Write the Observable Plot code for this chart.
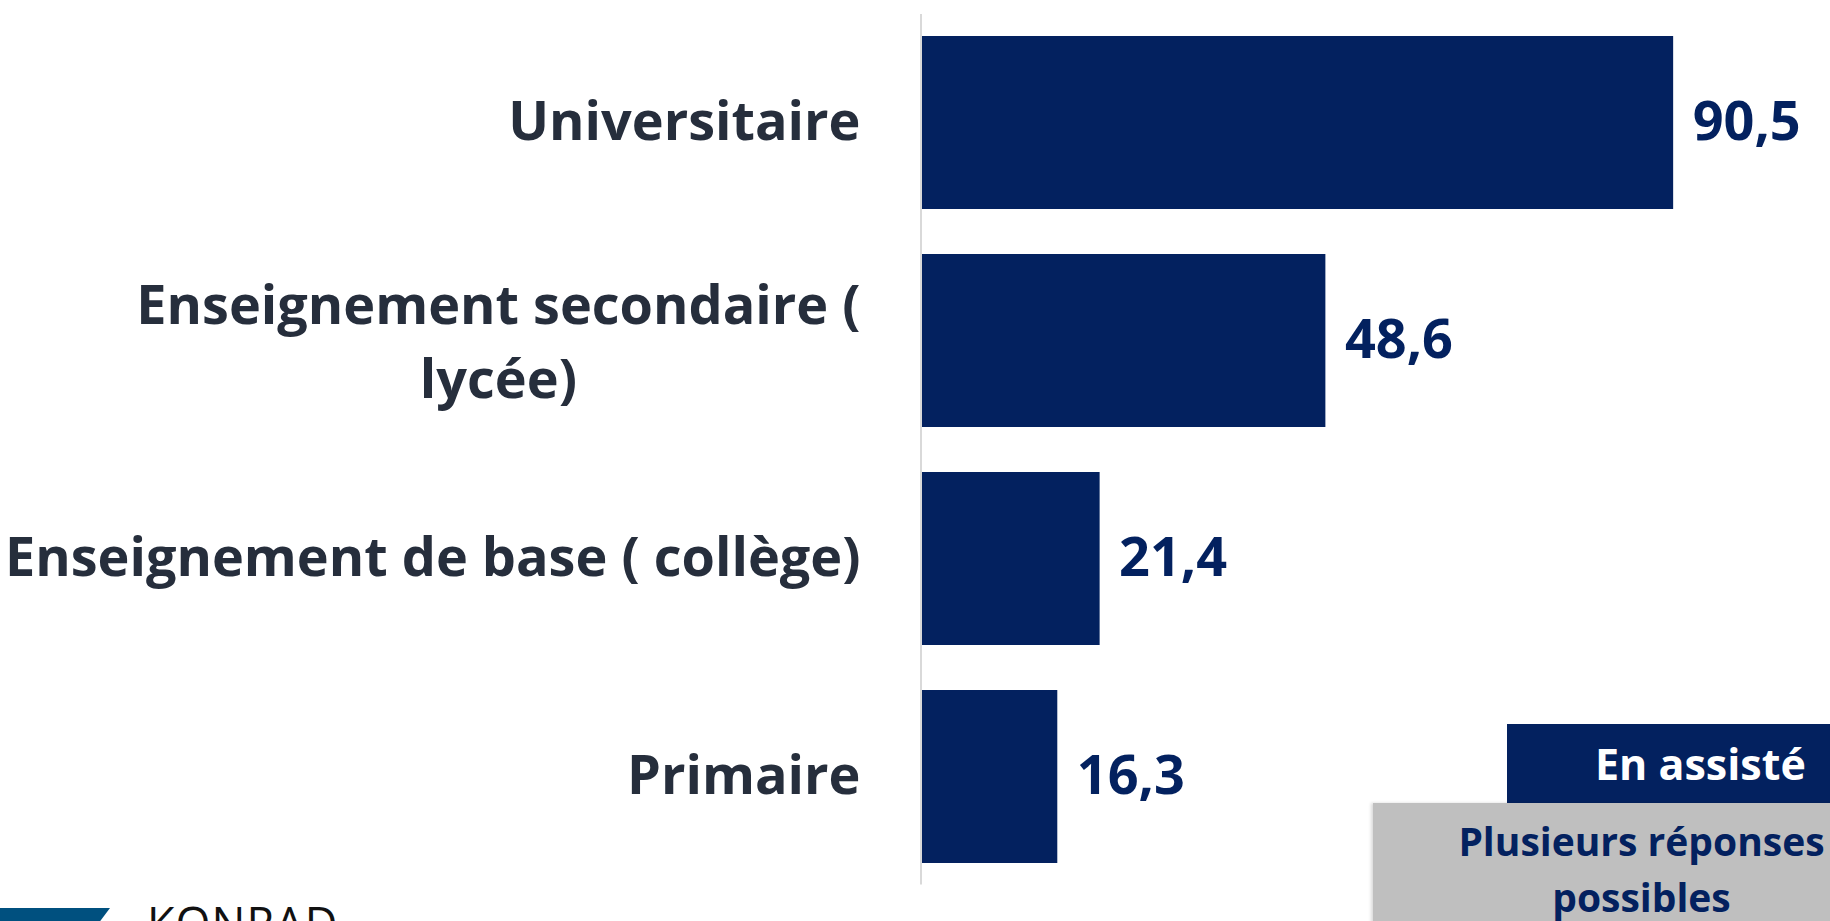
<!DOCTYPE html>
<html>
<head>
<meta charset="utf-8">
<script src="https://cdn.jsdelivr.net/npm/d3@7"></script>
<script src="https://cdn.jsdelivr.net/npm/@observablehq/plot@0.6"></script>
<style>
  html, body { margin: 0; padding: 0; background: #fff; overflow: hidden; width: 1830px; height: 921px; }
  #wrap { position: relative; width: 1830px; height: 921px; }
  #chart svg { display: block; }
  .box-navy { position: absolute; left: 1507px; top: 724px; width: 340px; height: 79px; background: #03215f;
    color: #fff; font-family: "Open Sans", sans-serif; font-weight: 700; font-size: 43px; line-height: 79px;
    box-sizing: border-box; padding-left: 88px; white-space: nowrap; }
  .box-gray { position: absolute; left: 1373px; top: 803px; width: 537px; height: 140px; background: #bfbfbf;
    color: #03215f; font-family: "Open Sans", sans-serif; font-weight: 700; font-size: 39px; line-height: 56px;
    text-align: center; box-sizing: border-box; padding-top: 10px; box-shadow: -2px 0 3px rgba(0,0,0,0.15); }
  .logo-shape { position: absolute; left: 0; top: 908px; width: 112px; height: 40px; background: #00507f;
    clip-path: polygon(0 0, 110px 0, 80px 40px, 0 40px); }
  .logo-text { position: absolute; left: 147px; top: 900px; font-family: "Open Sans", sans-serif; font-weight: 400;
    font-size: 45px; line-height: 45px; color: #111; letter-spacing: 1px; }
</style>
</head>
<body>
<div id="wrap">
  <div id="chart"></div>
  <div class="box-navy">En assisté</div>
  <div class="box-gray">Plusieurs réponses<br>possibles</div>
  <div class="logo-shape"></div>
  <div class="logo-text">KONRAD</div>
</div>
<script>
const categories = ["Universitaire", "Enseignement secondaire ( lycée)", "Enseignement de base ( collège)", "Primaire"];
const categoryLabels = ["Universitaire", "Enseignement secondaire (\nlycée)", "Enseignement de base ( collège)", "Primaire"];
const values = [90.5, 48.6, 21.4, 16.3];

const data = categories.map((c, i) => ({cat: c, label: categoryLabels[i], value: values[i]}));
const single = data.filter(d => !d.label.includes("\n"));
const wrapped = data.filter(d => d.label.includes("\n"));

const navy = "#03215f";
const labelColor = "#262e3c";
const font = "'Open Sans', sans-serif";
const labelSize = 54;
const labelGap = 62;

// measure the widest line of the wrapped label so that its lines are centred on each other
const ctx = document.createElement("canvas").getContext("2d");
ctx.font = `bold ${labelSize}px 'Open Sans'`;
const wrappedWidth = wrapped.length ? Math.max(...wrapped[0].label.split("\n").map(s => ctx.measureText(s).width)) : 0;

const fmt = v => v.toFixed(1).replace(".", ",");

const chart = Plot.plot({
  width: 1830,
  height: 921,
  marginLeft: 922,
  marginRight: 78,
  marginTop: 14,
  marginBottom: 36.5,
  style: {fontFamily: font, background: "transparent"},
  x: {domain: [0, 100], axis: null},
  y: {domain: categories, axis: null, paddingInner: 0.208, paddingOuter: 0.1},
  marks: [
    Plot.barX(data, {x: "value", y: "cat", fill: navy}),
    Plot.ruleX([0], {stroke: "#d9d9d9", strokeWidth: 2, dx: -1.5}),
    Plot.text(data, {x: "value", y: "cat", text: d => fmt(d.value), dx: 19, textAnchor: "start",
      fill: navy, fontSize: 54, fontWeight: "bold"}),
    Plot.text(single, {x: 0, y: "cat", text: "label", dx: -labelGap, textAnchor: "end",
      fill: labelColor, fontSize: labelSize, fontWeight: "bold"}),
    Plot.text(wrapped, {x: 0, y: "cat", text: "label", dx: -labelGap - wrappedWidth / 2, dy: -4, textAnchor: "middle",
      lineHeight: 1.37, fill: labelColor, fontSize: labelSize, fontWeight: "bold"})
  ]
});
document.getElementById("chart").appendChild(chart);
</script>
</body>
</html>
